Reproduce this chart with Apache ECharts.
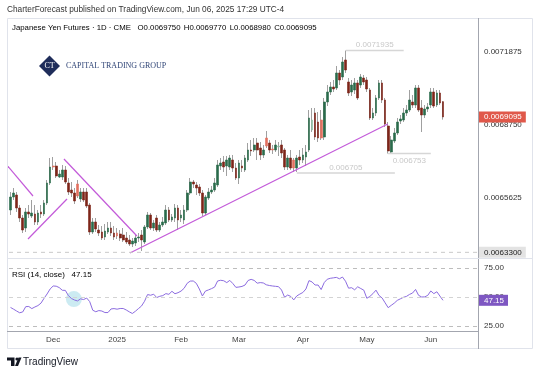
<!DOCTYPE html>
<html><head><meta charset="utf-8">
<script src="https://cdn.jsdelivr.net/npm/echarts@6/dist/echarts.min.js"></script>
<style>html,body{margin:0;padding:0;background:#fff}#c{width:540px;height:374px}</style>
</head><body><div id="c"></div>
<script>
const dates = [
'2024-11-11','2024-11-12','2024-11-13','2024-11-14','2024-11-15','2024-11-18','2024-11-19','2024-11-20','2024-11-21','2024-11-22',
'2024-11-25','2024-11-26','2024-11-27','2024-11-29','2024-12-02','2024-12-03','2024-12-04','2024-12-05','2024-12-06','2024-12-09',
'2024-12-10','2024-12-11','2024-12-12','2024-12-13','2024-12-16','2024-12-17','2024-12-18','2024-12-19','2024-12-20','2024-12-23',
'2024-12-24','2024-12-26','2024-12-27','2024-12-30','2024-12-31','2025-01-02','2025-01-03','2025-01-06','2025-01-07','2025-01-08',
'2025-01-09','2025-01-10','2025-01-13','2025-01-14','2025-01-15','2025-01-16','2025-01-17','2025-01-21','2025-01-22','2025-01-23',
'2025-01-24','2025-01-27','2025-01-28','2025-01-29','2025-01-30','2025-01-31','2025-02-03','2025-02-04','2025-02-05','2025-02-06',
'2025-02-07','2025-02-10','2025-02-11','2025-02-12','2025-02-13','2025-02-14','2025-02-18','2025-02-19','2025-02-20','2025-02-21',
'2025-02-24','2025-02-25','2025-02-26','2025-02-27','2025-02-28','2025-03-03','2025-03-04','2025-03-05','2025-03-06','2025-03-07',
'2025-03-10','2025-03-11','2025-03-12','2025-03-13','2025-03-14','2025-03-17','2025-03-18','2025-03-19','2025-03-20','2025-03-21',
'2025-03-24','2025-03-25','2025-03-26','2025-03-27','2025-03-28','2025-03-31','2025-04-01','2025-04-02','2025-04-03','2025-04-04',
'2025-04-07','2025-04-08','2025-04-09','2025-04-10','2025-04-11','2025-04-14','2025-04-15','2025-04-16','2025-04-17','2025-04-21',
'2025-04-22','2025-04-23','2025-04-24','2025-04-25','2025-04-28','2025-04-29','2025-04-30','2025-05-01','2025-05-02','2025-05-05',
'2025-05-06','2025-05-07','2025-05-08','2025-05-09','2025-05-12','2025-05-13','2025-05-14','2025-05-15','2025-05-16','2025-05-19',
'2025-05-20','2025-05-21','2025-05-22','2025-05-23','2025-05-27','2025-05-28','2025-05-29','2025-05-30','2025-06-02','2025-06-03',
'2025-06-04','2025-06-05','2025-06-06'];

const opens = [
0.0065111,0.0065668,0.0065753,0.0065197,0.0064769,0.0064341,0.0065026,0.0064854,0.0064940,0.0064598,
0.0065026,0.0064940,0.0065411,0.0066267,0.0066995,0.0066995,0.0066524,0.0066524,0.0066824,0.0066267,
0.0065967,0.0065839,0.0066224,0.0065582,0.0065882,0.0065882,0.0065325,0.0064170,0.0064598,0.0064255,
0.0064170,0.0063956,0.0064170,0.0064341,0.0064127,0.0064127,0.0064084,0.0064041,0.0063913,0.0063827,
0.0063656,0.0063699,0.0063913,0.0064041,0.0063742,0.0064384,0.0064897,0.0064341,0.0064769,0.0064255,
0.0064469,0.0064555,0.0065111,0.0064683,0.0064769,0.0065197,0.0064769,0.0064683,0.0065111,0.0065839,
0.0066310,0.0066182,0.0066096,0.0065839,0.0064983,0.0065625,0.0065882,0.0065967,0.0066182,0.0066995,
0.0067166,0.0066995,0.0066952,0.0067252,0.0066909,0.0066481,0.0066995,0.0066824,0.0067252,0.0067680,
0.0067680,0.0067979,0.0067765,0.0067466,0.0068193,0.0067979,0.0067723,0.0067680,0.0067808,0.0067894,
0.0067680,0.0066952,0.0067337,0.0067252,0.0066909,0.0067380,0.0067252,0.0067380,0.0067680,0.0068536,
0.0069264,0.0068878,0.0068964,0.0068236,0.0069735,0.0070163,0.0070377,0.0070334,0.0070976,0.0070805,
0.0071533,0.0070591,0.0070163,0.0070248,0.0070548,0.0070462,0.0070762,0.0070676,0.0070248,0.0069050,
0.0069264,0.0069906,0.0070548,0.0069820,0.0068707,0.0067594,0.0068065,0.0068408,0.0068921,0.0068964,
0.0069264,0.0069392,0.0069735,0.0069606,0.0070334,0.0069478,0.0069178,0.0069435,0.0069606,0.0070163,
0.0069606,0.0070120,0.0069750];

const closes = [
0.0065668,0.0065839,0.0065197,0.0064769,0.0064255,0.0065026,0.0064940,0.0064983,0.0064598,0.0064983,
0.0064940,0.0065411,0.0066267,0.0066952,0.0066952,0.0066567,0.0066652,0.0066824,0.0066310,0.0065882,
0.0065839,0.0065497,0.0065711,0.0065882,0.0065539,0.0065283,0.0064170,0.0064598,0.0064298,0.0064127,
0.0063913,0.0064212,0.0064341,0.0064127,0.0063956,0.0063998,0.0063913,0.0063827,0.0063742,0.0063656,
0.0063784,0.0063913,0.0063956,0.0063827,0.0064384,0.0064897,0.0064341,0.0064555,0.0064255,0.0064469,
0.0064598,0.0065111,0.0064683,0.0064812,0.0065197,0.0064683,0.0064897,0.0065111,0.0065839,0.0066310,
0.0066224,0.0066053,0.0065839,0.0064983,0.0065668,0.0065882,0.0065967,0.0066267,0.0067038,0.0067123,
0.0066952,0.0067252,0.0067337,0.0066909,0.0066481,0.0067123,0.0066909,0.0067337,0.0067680,0.0067637,
0.0067894,0.0067680,0.0067466,0.0067680,0.0067851,0.0067680,0.0067680,0.0067894,0.0067851,0.0067551,
0.0066952,0.0067337,0.0066909,0.0066909,0.0067337,0.0067252,0.0067466,0.0067594,0.0069050,0.0068964,
0.0068236,0.0068193,0.0068193,0.0069735,0.0070163,0.0070377,0.0070291,0.0070976,0.0070676,0.0071447,
0.0071104,0.0070120,0.0070462,0.0070548,0.0069906,0.0070805,0.0070591,0.0070291,0.0069050,0.0069264,
0.0069906,0.0070548,0.0069820,0.0068793,0.0067637,0.0068108,0.0068408,0.0068878,0.0069007,0.0069264,
0.0069392,0.0069820,0.0069606,0.0070334,0.0069392,0.0069178,0.0069435,0.0069521,0.0070163,0.0069563,
0.0070120,0.0069692,0.0069095];

const lows = [
0.0064897,0.0065539,0.0065026,0.0064598,0.0064127,0.0064170,0.0064769,0.0064769,0.0064469,0.0064469,
0.0064769,0.0064854,0.0065325,0.0066182,0.0066824,0.0066481,0.0066481,0.0066396,0.0066224,0.0065753,
0.0065668,0.0065368,0.0065625,0.0065454,0.0065454,0.0065197,0.0064041,0.0064084,0.0064170,0.0063998,
0.0063827,0.0063827,0.0064084,0.0063998,0.0063827,0.0063870,0.0063784,0.0063742,0.0063656,0.0063570,
0.0063527,0.0063570,0.0063742,0.0063356,0.0063656,0.0064298,0.0064255,0.0064212,0.0064170,0.0064170,
0.0064384,0.0064469,0.0064598,0.0064598,0.0064598,0.0064255,0.0064598,0.0064512,0.0065026,0.0065753,
0.0066053,0.0065753,0.0065711,0.0064854,0.0064897,0.0065539,0.0065796,0.0065882,0.0066096,0.0066824,
0.0066738,0.0066567,0.0066824,0.0066738,0.0066396,0.0066224,0.0066738,0.0066738,0.0067166,0.0067423,
0.0067594,0.0067252,0.0067252,0.0067337,0.0067765,0.0067551,0.0067509,0.0067594,0.0067423,0.0067337,
0.0066824,0.0066824,0.0066824,0.0066738,0.0066738,0.0067038,0.0067123,0.0066995,0.0067594,0.0068450,
0.0068108,0.0068022,0.0068108,0.0068108,0.0069563,0.0070034,0.0070163,0.0070248,0.0070462,0.0070676,
0.0070976,0.0069991,0.0069991,0.0070077,0.0069820,0.0070334,0.0070462,0.0070163,0.0068964,0.0068964,
0.0069135,0.0069820,0.0069692,0.0068664,0.0067530,0.0067560,0.0067979,0.0068322,0.0068793,0.0068878,
0.0069135,0.0069307,0.0069478,0.0069478,0.0069307,0.0068450,0.0069050,0.0069307,0.0069478,0.0069478,
0.0069521,0.0069606,0.0068980];

const highs = [
0.0065882,0.0066053,0.0065882,0.0065325,0.0064897,0.0065197,0.0065325,0.0065539,0.0065325,0.0065111,
0.0065325,0.0065539,0.0066396,0.0067337,0.0067380,0.0067166,0.0066824,0.0067038,0.0066995,0.0066481,
0.0066310,0.0066053,0.0066396,0.0066053,0.0066053,0.0066053,0.0065411,0.0064769,0.0064769,0.0064469,
0.0064426,0.0064512,0.0064598,0.0064598,0.0064426,0.0064341,0.0064255,0.0064341,0.0064170,0.0064041,
0.0063913,0.0064084,0.0064127,0.0064255,0.0064469,0.0065026,0.0064983,0.0064683,0.0064897,0.0064598,
0.0064812,0.0065325,0.0065240,0.0064940,0.0065368,0.0065325,0.0065111,0.0065325,0.0065967,0.0066481,
0.0066396,0.0066310,0.0066224,0.0065967,0.0065753,0.0066053,0.0066139,0.0066481,0.0067252,0.0067337,
0.0067423,0.0067423,0.0067466,0.0067466,0.0067123,0.0067252,0.0067252,0.0067466,0.0067979,0.0068108,
0.0068193,0.0068193,0.0068022,0.0067894,0.0068493,0.0068108,0.0067894,0.0068108,0.0068022,0.0068108,
0.0067765,0.0067466,0.0067680,0.0067337,0.0067466,0.0067680,0.0067765,0.0067894,0.0069392,0.0069478,
0.0069478,0.0069307,0.0069392,0.0069906,0.0070462,0.0070591,0.0070676,0.0071276,0.0071104,0.0071661,
0.0071935,0.0070762,0.0070676,0.0070762,0.0070676,0.0070933,0.0070890,0.0070805,0.0070334,0.0069478,
0.0070034,0.0070676,0.0070676,0.0069906,0.0068878,0.0068279,0.0068622,0.0069050,0.0069178,0.0069478,
0.0069606,0.0070248,0.0070034,0.0070462,0.0070462,0.0069820,0.0069606,0.0069692,0.0070334,0.0070334,
0.0070248,0.0070248,0.0069770];

const rsi = [
41.0,39.5,37.9,36.4,37.1,41.7,41.8,40.0,41.4,42.6,
44.7,48.8,52.6,56.9,59.5,59.3,58.1,55.8,55.7,51.2,
48.7,47.4,46.6,48.4,47.8,49.1,46.0,38.6,37.3,38.3,
37.9,36.6,36.6,39.7,40.0,39.5,40.1,40.1,38.8,37.2,
35.8,37.7,40.0,42.2,46.3,52.1,51.5,52.4,49.5,50.6,
51.2,52.9,52.3,54.9,52.8,53.7,55.1,57.5,61.8,63.7,
63.8,61.8,56.9,50.9,55.1,56.1,57.2,58.5,63.8,64.4,
64.0,62.4,64.3,61.6,58.3,58.6,59.1,60.3,64.2,65.2,
64.3,61.9,62.4,62.1,60.5,59.9,59.5,59.2,58.9,56.0,
49.7,51.7,50.5,47.5,50.9,52.5,53.9,56.9,64.1,63.0,
60.3,60.3,56.4,62.4,65.3,66.1,66.5,66.9,65.7,67.2,
63.6,57.6,58.0,56.2,58.8,57.3,55.9,48.9,50.5,52.9,
55.9,51.3,49.2,45.0,40.8,42.8,44.7,47.1,48.4,49.7,
50.5,52.2,53.4,56.5,51.4,50.0,50.1,51.4,55.2,52.9,
54.5,50.8,47.15];

const priceTicks = [0.0065625, 0.006875, 0.0071875];
const rsiTicks = [25, 50, 75];
const tickDates = ['2024-12-02','2025-01-02','2025-02-03','2025-03-03','2025-04-01','2025-05-01','2025-06-02'];
const tickLabels = ['Dec','2025','Feb','Mar','Apr','May','Jun'];
const supportLevel = 0.00633;
const emptyBarsRight = 11;
// trend lines drawn on the chart: [[barIndex, price], [barIndex, price]]
const trendLines = [
  [[-1.2, 0.0067038], [7.38, 0.0065711]],
  [[5.74, 0.0063870], [18.54, 0.0065582]],
  [[17.55, 0.0067295], [41.51, 0.0063998]],
  [[39.21, 0.0063271], [123.88, 0.0068793]]
];
const priceNotes = [
  {text: '0.0071935', price: 0.0071935, from: 110.1, to: 129.1, side: 'top'},
  {text: '0.006705', price: 0.00667, from: 94.0, to: 126.2, side: 'top'},
  {text: '0.006753', price: 0.006753, from: 123.9, to: 138.0, side: 'bottom'}
];
const rsiHighlight = [20.8, 48.2];

const FF = '"Liberation Sans", Arial, sans-serif';
const n = dates.length;
const cats = dates.concat(Array.from({length: emptyBarsRight}, (_, k) => 'pad' + k));
const N = cats.length;
const last = n - 1;
const CLEAR = 'rgba(0,0,0,0)';
const X0 = -0.5, X1 = N - 0.5;

function candleColor(i) {
  const up = closes[i] >= opens[i];
  const prev = i > 0 ? closes[i - 1] : opens[i];
  if (up) return closes[i] >= prev ? '#2a6b4b' : '#8dbda3';
  return closes[i] < prev ? '#7d2519' : '#e3705f';
}

const wickData = dates.map((d, i) => [opens[i], closes[i], lows[i], highs[i]]);
const bodyData = dates.map((d, i) => {
  const c = candleColor(i);
  return {
    value: [opens[i], closes[i], Math.min(opens[i], closes[i]), Math.max(opens[i], closes[i])],
    itemStyle: {color: c, color0: c, borderColor: c, borderColor0: c}
  };
});

const boxLabel = (text, bg, fg) => ({show: true, position: 'end', distance: 1, formatter: text,
  backgroundColor: bg, color: fg, padding: [2, 4, 1, 5], fontSize: 8, fontFamily: FF});

const levelLine = (y, lineStyle, label) => [
  {coord: [X0, y], lineStyle: lineStyle, label: label},
  {coord: [X1, y]}
];

const series = [
  {
    type: 'candlestick', xAxisIndex: 0, yAxisIndex: 0, data: wickData, barWidth: 0.6, z: 3,
    itemStyle: {color: '#a0a0a0', color0: '#a0a0a0', borderColor: '#a0a0a0', borderColor0: '#a0a0a0', borderWidth: 1},
    silent: true
  },
  {
    type: 'candlestick', xAxisIndex: 0, yAxisIndex: 0, data: bodyData, barWidth: 2.2, z: 4, silent: true,
    itemStyle: {borderWidth: 0.6}
  },
  {
    // horizontal price levels of the main pane
    type: 'line', xAxisIndex: 2, yAxisIndex: 0, symbol: 'none', silent: true, z: 6,
    data: [[X0, supportLevel], [X1, supportLevel]],
    lineStyle: {type: [4, 4], color: '#c9c9c9', width: 1},
    markLine: {
      symbol: ['none', 'none'], silent: true, animation: false,
      data: [
        levelLine(supportLevel, {color: CLEAR, width: 0}, boxLabel(supportLevel.toFixed(7), '#e3e3e3', '#222')),
        levelLine(closes[last], {color: CLEAR, width: 0}, boxLabel(closes[last].toFixed(7), '#e0584a', '#fff'))
      ]
    }
  }
];

trendLines.forEach(seg => series.push({
  type: 'line', xAxisIndex: 2, yAxisIndex: 0, data: seg, symbol: 'none', clip: false, silent: true, z: 5,
  lineStyle: {color: '#c35ad9', width: 1.2}
}));

priceNotes.forEach(nt => {
  series.push({
    type: 'line', xAxisIndex: 2, yAxisIndex: 0, symbol: 'none', silent: true, z: 2,
    data: [[nt.from, nt.price], [nt.to, nt.price]],
    lineStyle: {color: '#d6d6d6', width: 1.5}
  });
  series.push({
    type: 'scatter', xAxisIndex: 2, yAxisIndex: 0, symbolSize: 1, silent: true, z: 2,
    itemStyle: {color: CLEAR},
    data: [[(nt.from + nt.to) / 2, nt.price]],
    label: {show: true, position: nt.side, distance: nt.side === 'top' ? 1 : 3, formatter: nt.text,
            color: '#b9b9b9', fontSize: 8, fontFamily: FF}
  });
});

series.push({
  type: 'scatter', xAxisIndex: 3, yAxisIndex: 1, data: [rsiHighlight], symbolSize: 16, silent: true, z: 1,
  itemStyle: {color: 'rgba(140, 210, 225, 0.55)'}
});

series.push({
  type: 'line', xAxisIndex: 1, yAxisIndex: 1, data: rsi, symbol: 'none', silent: true, z: 4,
  lineStyle: {color: '#8c6ce0', width: 1},
  markLine: {
    symbol: ['none', 'none'], silent: true, animation: false,
    data: [
      {yAxis: rsiTicks[2], lineStyle: {type: [4, 4], color: '#bdbdbd', width: 1}, label: {show: false}},
      {yAxis: rsiTicks[1], lineStyle: {type: [4, 4], color: '#d3d3d3', width: 1}, label: {show: false}},
      {yAxis: rsiTicks[0], lineStyle: {type: [4, 4], color: '#bdbdbd', width: 1}, label: {show: false}},
      {yAxis: rsi[last], lineStyle: {color: CLEAR, width: 0},
       label: boxLabel(rsi[last].toFixed(2), '#7e57c2', '#fff')}
    ]
  }
});

const lineEl = (x1, y1, x2, y2, color) => ({type: 'line', z: 50, silent: true,
  shape: {x1, y1, x2, y2}, style: {stroke: color, lineWidth: 1}});

const graphic = [
  {type: 'rect', z: 50, silent: true, shape: {x: 7.5, y: 18.5, width: 525, height: 330},
   style: {fill: 'none', stroke: '#e0e3eb', lineWidth: 1}},
  lineEl(478.5, 18, 478.5, 349, '#a3a6af'),
  lineEl(7, 258.5, 533, 258.5, '#e0e3eb'),
  lineEl(7, 331.5, 478, 331.5, '#a3a6af'),
  {type: 'text', x: 7, y: 10, silent: true,
   style: {text: 'CharterForecast published on TradingView.com, Jun 06, 2025 17:29 UTC-4',
           fontSize: 8.3, fontFamily: FF, fill: '#333', verticalAlign: 'middle'}},
  {type: 'text', x: 12, y: 28, silent: true,
   style: {text: '{a|Japanese Yen Futures · 1D · CME}  {b|O' + opens[last].toFixed(7) + '} {b|H' + highs[last].toFixed(7) +
           '} {b|L' + lows[last].toFixed(7) + '} {b|C' + closes[last].toFixed(7) + '}',
           verticalAlign: 'middle',
           rich: {a: {fontSize: 7.8, fontFamily: FF, color: '#555'}, b: {fontSize: 7.8, fontFamily: FF, color: '#8b3a32'}}}},
  {type: 'polygon', silent: true, shape: {points: [[49.5, 55.5], [60, 66], [49.5, 76.5], [39, 66]]},
   style: {fill: '#1f2d5a'}},
  {type: 'text', x: 49.5, y: 66, silent: true,
   style: {text: 'CT', fontSize: 8, fontFamily: '"Liberation Serif", serif', fill: '#fff', align: 'center', verticalAlign: 'middle'}},
  {type: 'text', x: 66, y: 66, silent: true,
   style: {text: 'CAPITAL TRADING GROUP', fontSize: 8, fontFamily: '"Liberation Serif", serif', fill: '#2f4476', verticalAlign: 'middle'}},
  {type: 'text', x: 12, y: 275, silent: true,
   style: {text: '{a|RSI (14, close)}  {b|' + rsi[last].toFixed(2) + '}', verticalAlign: 'middle',
           rich: {a: {fontSize: 8, fontFamily: FF, color: '#555'}, b: {fontSize: 8, fontFamily: FF, color: '#7e57c2'}}}},
  {type: 'polygon', silent: true, shape: {points: [[7, 357.5], [14.5, 357.5], [14.5, 366], [11, 366], [11, 360.5], [7, 360.5]]},
   style: {fill: '#131722'}},
  {type: 'circle', silent: true, shape: {cx: 17, cy: 359, r: 1.6}, style: {fill: '#131722'}},
  {type: 'polygon', silent: true, shape: {points: [[15, 366], [18.5, 357.5], [21.5, 357.5], [18, 366]]},
   style: {fill: '#131722'}},
  {type: 'text', x: 23, y: 362, silent: true,
   style: {text: 'TradingView', fontSize: 10, fontFamily: FF, fill: '#131722', verticalAlign: 'middle'}}
];

const chart = echarts.init(document.getElementById('c'), null, {renderer: 'canvas'});
chart.setOption({
  animation: false,
  backgroundColor: '#fff',
  grid: [
    {left: 9, top: 18, width: 469, height: 240},
    {left: 9, top: 258, width: 469, height: 73}
  ],
  xAxis: [
    {type: 'category', gridIndex: 0, data: cats, boundaryGap: true,
     axisLine: {show: false}, axisTick: {show: false}, axisLabel: {show: false}, splitLine: {show: false}},
    {type: 'category', gridIndex: 1, data: cats, boundaryGap: true,
     axisLine: {show: false}, axisTick: {show: false}, splitLine: {show: false},
     axisLabel: {interval: (idx, val) => tickDates.includes(val),
                 formatter: val => { const k = tickDates.indexOf(val); return k >= 0 ? tickLabels[k] : ''; },
                 fontSize: 8, fontFamily: FF, color: '#444', margin: 5}},
    {type: 'value', gridIndex: 0, min: X0, max: X1, show: false},
    {type: 'value', gridIndex: 1, min: X0, max: X1, show: false}
  ],
  yAxis: [
    {type: 'value', gridIndex: 0, position: 'right', min: 0.0063057, max: 0.0073330, scale: true,
     axisLine: {show: false}, axisTick: {show: false}, splitLine: {show: false},
     axisLabel: {customValues: priceTicks, formatter: v => v.toFixed(7), fontSize: 8, fontFamily: FF, color: '#333', margin: 6}},
    {type: 'value', gridIndex: 1, position: 'right', min: 20.7, max: 83.6,
     axisLine: {show: false}, axisTick: {show: false}, splitLine: {show: false},
     axisLabel: {customValues: rsiTicks, formatter: v => v.toFixed(2), fontSize: 8, fontFamily: FF, color: '#333', margin: 6}}
  ],
  graphic: graphic,
  series: series
});
</script>
</body></html>
